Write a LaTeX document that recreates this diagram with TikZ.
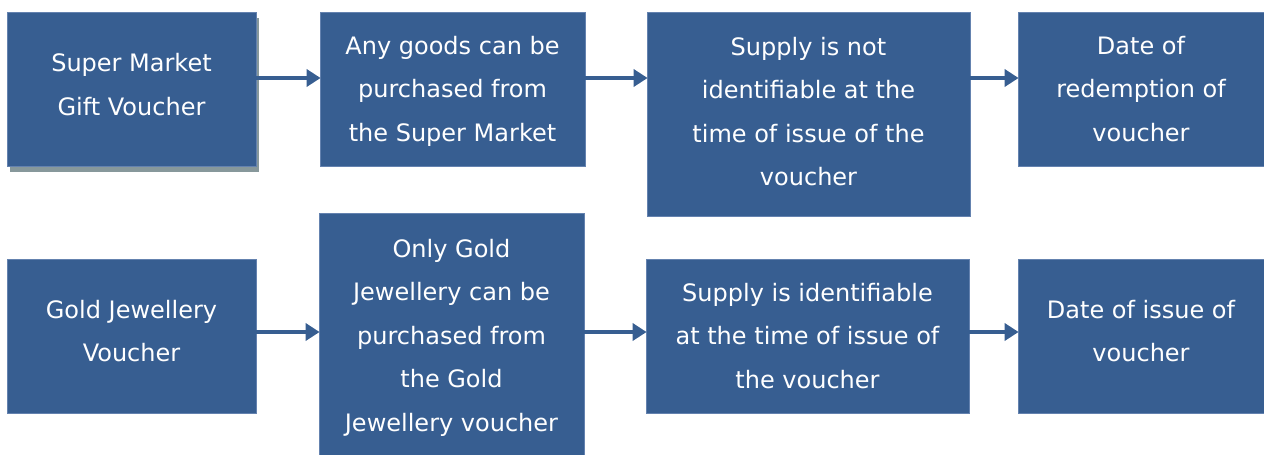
\documentclass[tikz,border=0pt]{standalone}
\usepackage{fontspec}
\setmainfont{DejaVu Sans}
\usetikzlibrary{arrows.meta,positioning}
\definecolor{boxblue}{RGB}{55,94,145}
\definecolor{boxedge}{RGB}{100,130,175}
\definecolor{shadowgray}{RGB}{135,152,155}
\tikzset{
  flowbox/.style={fill=boxblue,draw=boxedge,line width=0.8pt,inner sep=0pt},
  flowtext/.style={text=white,align=center,inner sep=0pt,font=\fontsize{24}{43.5}\selectfont},
  flowarrow/.style={draw=boxblue,line width=4pt,-{Triangle[length=14pt,width=17pt]},shorten >=-1pt}
}
\begin{document}
\begin{tikzpicture}[x=1pt,y=-1pt]
\useasboundingbox (0,0) rectangle (1264,455);
% shadow of first box
\fill[shadowgray] (10,18) rectangle (259,172);
% row 1
\node[flowbox,minimum width=249pt,minimum height=154pt] (b1) at (131.5,89) {};
\node[flowbox,minimum width=265pt,minimum height=154pt] (b2) at (452.5,89) {};
\node[flowbox,minimum width=323pt,minimum height=204pt] (b3) at (808.5,114) {};
\node[flowbox,minimum width=246pt,minimum height=154pt] (b4) at (1141,89) {};
% row 2
\node[flowbox,minimum width=249pt,minimum height=154pt] (b5) at (131.5,336) {};
\node[flowbox,minimum width=265pt,minimum height=243pt] (b6) at (451.5,334.5) {};
\node[flowbox,minimum width=323pt,minimum height=154pt] (b7) at (807.5,336) {};
\node[flowbox,minimum width=246pt,minimum height=154pt] (b8) at (1141,336) {};
% texts
\node[flowtext] (t1) at ([yshift=4.5pt]b1.center) {Super Market\\Gift Voucher};
\node[flowtext] (t2) at ([yshift=-2pt]b2.center) {Any goods can be\\purchased from\\the Super Market};
\node[flowtext] (t3) at ([yshift=2.5pt]b3.center) {Supply is not\\identifiable at the\\time of issue of the\\voucher};
\node[flowtext] (t4) at (b4.center) {Date of\\redemption of\\voucher};
\node[flowtext] (t5) at ([yshift=5pt]b5.center) {Gold Jewellery\\Voucher};
\node[flowtext] (t6) at ([yshift=-3pt]b6.center) {Only Gold\\Jewellery can be\\purchased from\\the Gold\\Jewellery voucher};
\node[flowtext] (t7) at (b7.center) {Supply is identifiable\\at the time of issue of\\the voucher};
\node[flowtext] (t8) at ([yshift=5pt]b8.center) {Date of issue of\\voucher};
% arrows
\draw[flowarrow] (b1.east |- 0,78) -- (b2.west |- 0,78);
\draw[flowarrow] (b2.east |- 0,78) -- (b3.west |- 0,78);
\draw[flowarrow] (b3.east |- 0,78) -- (b4.west |- 0,78);
\draw[flowarrow] (b5.east |- 0,332) -- (b6.west |- 0,332);
\draw[flowarrow] (b6.east |- 0,332) -- (b7.west |- 0,332);
\draw[flowarrow] (b7.east |- 0,332) -- (b8.west |- 0,332);
\end{tikzpicture}
\end{document}
